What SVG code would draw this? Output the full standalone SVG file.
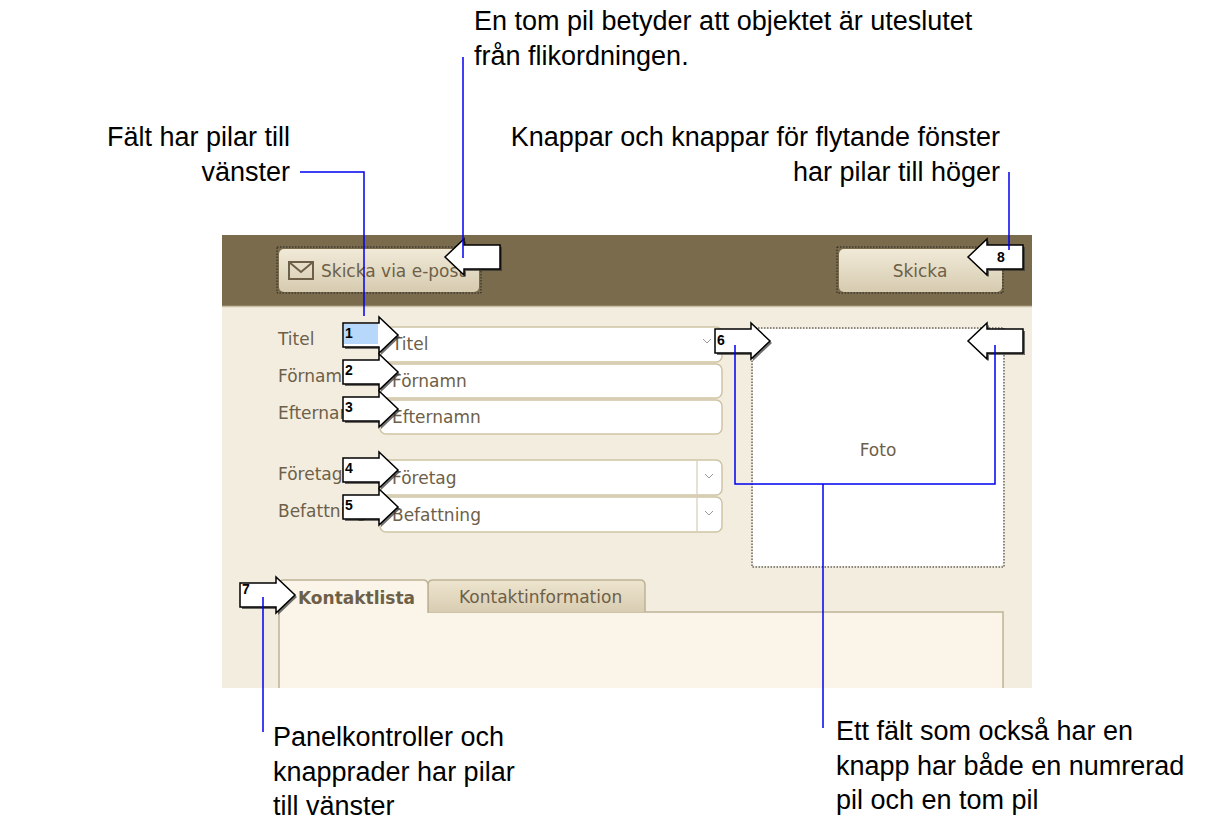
<svg xmlns="http://www.w3.org/2000/svg" width="1228" height="839" viewBox="0 0 1228 839">
<style>
.cap{font-family:"Liberation Sans",Arial,sans-serif;font-size:27px;fill:#000}
.ui{font-family:"DejaVu Sans",Verdana,sans-serif;font-size:17px;fill:#6e6048}
.num{font-family:"Liberation Sans",Arial,sans-serif;font-size:14px;font-weight:bold;fill:#000}
.fld{fill:#fff;stroke:#cfc3a4;stroke-width:1.5}
.arr{fill:#fff;stroke:#000;stroke-width:1.5}
.sh{fill:#333;opacity:.7}
.ln{fill:none;stroke:#0000ee;stroke-width:1.5}
.dot{fill:none;stroke:#222;stroke-width:1;stroke-dasharray:1.5 1.5}
</style>
<defs>
<linearGradient id="btn" x1="0" y1="0" x2="0" y2="1"><stop offset="0" stop-color="#f1ead8"/><stop offset="1" stop-color="#d6cbb0"/></linearGradient>
<linearGradient id="tab" x1="0" y1="0" x2="0" y2="1"><stop offset="0" stop-color="#eee5cf"/><stop offset="1" stop-color="#d8cdb2"/></linearGradient>
<path id="ra" d="M0,-12 H36 V-18 L55,0 L36,18 V12 H0 Z"/>
<path id="la" d="M0,-12 H-36 V-18 L-55,0 L-36,18 V12 H0 Z"/>
</defs>
<rect width="1228" height="839" fill="#fff"/>
<g id="ui">
<rect x="222" y="235" width="810" height="453" fill="#f3ede0"/>
<rect x="222" y="235" width="810" height="71" fill="#7a6b4c"/>
<line x1="222" y1="306.5" x2="1032" y2="306.5" stroke="#c9bfa6" stroke-width="1.5"/>
<g id="btn-email"><rect x="279" y="249" width="200" height="43" rx="5" fill="url(#btn)"/><rect x="277" y="247" width="204" height="46" class="dot"/>
<rect x="289" y="262" width="24" height="17" fill="none" stroke="#6e6048" stroke-width="2"/><path d="M289,262 L301,272 L313,262" fill="none" stroke="#6e6048" stroke-width="2"/>
<text x="321" y="277" class="ui">Skicka via e-post</text></g>
<g id="btn-send"><rect x="839" y="249" width="163" height="43" rx="5" fill="url(#btn)"/><rect x="837" y="247" width="166" height="46" class="dot"/><text x="920" y="277" class="ui" text-anchor="middle">Skicka</text></g>
<text x="278" y="345" class="ui">Titel</text>
<text x="278" y="382" class="ui">Förnamn</text>
<text x="278" y="419" class="ui">Efternamn</text>
<text x="278" y="480" class="ui">Företag</text>
<text x="278" y="517" class="ui">Befattning</text>
<g id="f-titel"><rect x="380" y="327" width="342" height="35" rx="6" class="fld"/><text x="392" y="350" class="ui">Titel</text><path d="M703,339 l4,4 l4,-4" fill="none" stroke="#999" stroke-width="1"/></g>
<g id="f-fornamn"><rect x="380" y="364" width="342" height="34" rx="6" class="fld"/><text x="392" y="387" class="ui">Förnamn</text></g>
<g id="f-efternamn"><rect x="380" y="400" width="342" height="34" rx="6" class="fld"/><text x="392" y="423" class="ui">Efternamn</text></g>
<g id="f-foretag"><rect x="380" y="460" width="342" height="35" rx="6" class="fld"/><line x1="697" y1="461" x2="697" y2="494" stroke="#cfc3a4"/><text x="392" y="484" class="ui">Företag</text><path d="M705,474 l4,4 l4,-4" fill="none" stroke="#999"/></g>
<g id="f-befattning"><rect x="380" y="497" width="342" height="35" rx="6" class="fld"/><line x1="697" y1="498" x2="697" y2="531" stroke="#cfc3a4"/><text x="392" y="521" class="ui">Befattning</text><path d="M705,511 l4,4 l4,-4" fill="none" stroke="#999"/></g>
<g id="foto"><rect x="753" y="329" width="250" height="237" rx="4" fill="#fff"/><rect x="752" y="328" width="252" height="239" class="dot"/><text x="878" y="456" class="ui" text-anchor="middle">Foto</text></g>
<g id="tabs">
<rect x="279" y="612" width="724" height="90" fill="#faf5e8" stroke="#bfb396" stroke-width="1.5"/>
<path d="M428,612 V585 q0,-5 5,-5 H640 q5,0 5,5 V612" fill="url(#tab)" stroke="#bfb396" stroke-width="1.5"/>
<path d="M279,613 V585 q0,-5 5,-5 H423 q5,0 5,5 V613" fill="#faf5e8" stroke="#bfb396" stroke-width="1.5"/>
<text x="298" y="604" class="ui" font-weight="bold">Kontaktlista</text>
<text x="459" y="603" class="ui">Kontaktinformation</text>
</g>
<rect x="222" y="688" width="810" height="20" fill="#fff"/>
</g>
<g id="arrows">
<g transform="translate(345,337)"><use href="#ra" class="sh"/></g><g transform="translate(343,335)"><use href="#ra" class="arr"/><rect x="1" y="-11" width="34" height="20" fill="#b7d8fb"/><text x="2" y="3" class="num">1</text></g>
<g transform="translate(345,374)"><use href="#ra" class="sh"/></g><g transform="translate(343,372)"><use href="#ra" class="arr"/><text x="2" y="3" class="num">2</text></g>
<g transform="translate(345,411)"><use href="#ra" class="sh"/></g><g transform="translate(343,409)"><use href="#ra" class="arr"/><text x="2" y="3" class="num">3</text></g>
<g transform="translate(345,472)"><use href="#ra" class="sh"/></g><g transform="translate(343,470)"><use href="#ra" class="arr"/><text x="2" y="3" class="num">4</text></g>
<g transform="translate(345,509)"><use href="#ra" class="sh"/></g><g transform="translate(343,507)"><use href="#ra" class="arr"/><text x="2" y="3" class="num">5</text></g>
<g transform="translate(717,343)"><use href="#ra" class="sh"/></g><g transform="translate(715,341)"><use href="#ra" class="arr"/><text x="2" y="4" class="num">6</text></g>
<g transform="translate(242,597)"><use href="#ra" class="sh"/></g><g transform="translate(240,595)"><use href="#ra" class="arr"/><text x="2" y="-1" class="num">7</text></g>
<g transform="translate(1025,343)"><use href="#la" class="sh"/></g><g transform="translate(1023,341)"><use href="#la" class="arr"/></g>
<g transform="translate(1025,259)"><use href="#la" class="sh"/></g><g transform="translate(1023,257)"><use href="#la" class="arr"/><text x="-26" y="5" class="num">8</text></g>
<g transform="translate(502,259)"><use href="#la" class="sh"/></g><g transform="translate(500,257)"><use href="#la" class="arr"/></g>
</g>
<g id="connectors">
<path class="ln" d="M300,172 H364 V316"/>
<path class="ln" d="M463,57 V258"/>
<path class="ln" d="M1009,172 V250"/>
<path class="ln" d="M735,345 V484 H995 V345"/>
<path class="ln" d="M823,484 V728"/>
<path class="ln" d="M263,597 V732"/>
</g>
<g id="captions">
<text x="474" y="30" class="cap">En tom pil betyder att objektet är uteslutet</text>
<text x="474" y="65" class="cap">från flikordningen.</text>
<text x="290" y="146" class="cap" text-anchor="end">Fält har pilar till</text>
<text x="290" y="181" class="cap" text-anchor="end">vänster</text>
<text x="1000" y="146" class="cap" text-anchor="end">Knappar och knappar för flytande fönster</text>
<text x="1000" y="181" class="cap" text-anchor="end">har pilar till höger</text>
<text x="273" y="746" class="cap">Panelkontroller och</text>
<text x="273" y="781" class="cap">knapprader har pilar</text>
<text x="273" y="815" class="cap">till vänster</text>
<text x="836" y="740" class="cap">Ett fält som också har en</text>
<text x="836" y="775" class="cap">knapp har både en numrerad</text>
<text x="836" y="809" class="cap">pil och en tom pil</text>
</g>
</svg>
